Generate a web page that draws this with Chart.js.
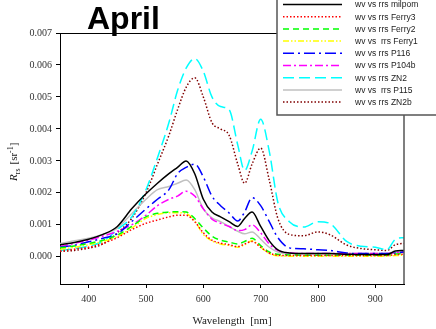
<!DOCTYPE html>
<html>
<head>
<meta charset="utf-8">
<script src="https://cdn.jsdelivr.net/npm/chart.js@4/dist/chart.umd.min.js"></script>
<style>
  html, body { margin: 0; padding: 0; background: #fff; }
  canvas { display: block; }
</style>
</head>
<body>
<canvas id="chart" width="436" height="329"></canvas>
<script>
// wavelengths (nm)
const wavelengths = [350, 375, 400, 425, 450, 475, 500, 520, 540, 555, 570, 585, 600, 615, 630, 645, 660, 672, 685, 700, 715, 730, 750, 775, 800, 820, 850, 875, 900, 920, 935, 950];

// Rrs values per station
const milpom = [0.00038, 0.00045, 0.00055, 0.0007, 0.00095, 0.0015, 0.00197, 0.0023, 0.0026, 0.0028, 0.003, 0.0026, 0.0018, 0.0014, 0.00125, 0.0011, 0.00095, 0.0012, 0.0014, 0.00095, 0.0005, 0.00022, 0.00012, 0.0001, 0.0001, 0.0001, 0.00008, 0.00007, 0.00007, 0.00007, 0.00018, 0.0002];
const ferry3 = [0.00018, 0.00024, 0.0003, 0.00042, 0.0006, 0.00085, 0.00105, 0.00115, 0.00125, 0.0013, 0.0013, 0.0011, 0.00075, 0.00052, 0.00043, 0.00038, 0.00032, 0.0004, 0.00048, 0.0003, 0.00012, 0.00005, 0.00004, 0.00004, 0.00004, 0.00004, 0.00004, 0.00004, 0.00004, 0.00004, 0.00007, 0.00008];
const ferry2 = [0.00028, 0.00034, 0.00042, 0.00052, 0.00068, 0.00095, 0.00125, 0.00136, 0.0014, 0.00141, 0.0014, 0.0012, 0.0009, 0.00065, 0.00052, 0.00046, 0.0004, 0.00048, 0.00058, 0.00035, 0.00015, 0.00008, 0.00006, 0.00005, 0.00005, 0.00005, 0.00005, 0.00005, 0.00005, 0.00005, 0.00009, 0.0001];
const ferry1 = [0.00024, 0.0003, 0.00038, 0.00048, 0.00063, 0.0009, 0.0012, 0.00132, 0.00138, 0.00138, 0.00135, 0.00112, 0.0007, 0.0005, 0.0004, 0.00036, 0.0003, 0.00038, 0.0005, 0.0003, 0.0001, 0.00003, 0.00002, 0.00002, 0.00002, 0.00002, 0.00002, 0.00002, 0.00002, 0.00002, 0.00004, 0.00005];
const p116 = [0.0003, 0.00036, 0.00047, 0.00058, 0.00072, 0.0011, 0.0015, 0.0018, 0.0021, 0.0026, 0.0028, 0.0029, 0.0025, 0.0019, 0.0016, 0.00137, 0.00112, 0.0014, 0.00185, 0.0016, 0.0011, 0.0006, 0.00028, 0.00025, 0.00022, 0.0002, 0.00012, 0.0001, 0.0001, 0.0001, 0.00012, 0.00015];
const p104b = [0.00032, 0.00042, 0.00052, 0.00065, 0.0008, 0.001, 0.0013, 0.0016, 0.0018, 0.0019, 0.00205, 0.0019, 0.0015, 0.00118, 0.00105, 0.00095, 0.00082, 0.00085, 0.001, 0.00075, 0.0004, 0.0002, 0.00012, 0.0001, 0.0001, 0.0001, 0.0001, 0.0001, 0.0001, 0.0001, 0.00014, 0.00015];
const zn2 = [0.0002, 0.00025, 0.00034, 0.00048, 0.00085, 0.00125, 0.0021, 0.0031, 0.0042, 0.0052, 0.0059, 0.0062, 0.0058, 0.005, 0.0047, 0.0046, 0.0035, 0.0027, 0.0033, 0.0043, 0.0033, 0.0017, 0.0011, 0.00093, 0.0011, 0.00105, 0.00048, 0.00033, 0.0003, 0.00022, 0.00055, 0.0006];
const p115 = [0.00042, 0.0005, 0.00058, 0.0007, 0.0009, 0.00135, 0.0018, 0.0021, 0.0022, 0.0023, 0.0024, 0.0021, 0.0015, 0.00122, 0.0011, 0.00095, 0.0008, 0.00072, 0.00078, 0.00055, 0.0003, 0.00015, 0.0001, 0.0001, 0.0001, 0.0001, 0.0001, 0.0001, 0.0001, 0.0001, 0.00013, 0.00015];
const zn2b = [0.00017, 0.0002, 0.00027, 0.0004, 0.00075, 0.0012, 0.002, 0.0029, 0.0038, 0.0046, 0.0053, 0.0056, 0.005, 0.0042, 0.004, 0.0038, 0.0029, 0.0023, 0.0029, 0.0034, 0.0024, 0.0012, 0.0007, 0.00066, 0.00078, 0.0007, 0.00037, 0.00026, 0.00022, 0.0002, 0.00038, 0.00042];

const seriesLabels = ['wv vs rrs milpom', 'wv vs rrs Ferry3', 'wv vs rrs Ferry2', 'wv vs  rrs Ferry1', 'wv vs rrs P116', 'wv vs rrs P104b', 'wv vs rrs ZN2', 'wv vs  rrs P115', 'wv vs rrs ZN2b'];
const yTicks = [0, 0.001, 0.002, 0.003, 0.004, 0.005, 0.006, 0.007];
const xTicks = [400, 500, 600, 700, 800, 900];

function ds(label, values, color, dash) {
  return {
    label,
    data: wavelengths.map((w, i) => ({ x: w, y: values[i] })),
    borderColor: color,
    borderDash: dash,
    borderWidth: 1.5,
    pointRadius: 0,
    fill: false,
    cubicInterpolationMode: 'monotone'
  };
}

const datasets = [
  ds(seriesLabels[0], milpom, '#000000', []),
  ds(seriesLabels[1], ferry3, '#ff0000', [1.5, 2]),
  ds(seriesLabels[2], ferry2, '#00ff00', [6, 4]),
  ds(seriesLabels[3], ferry1, '#ffff00', [6, 2, 1.5, 2, 1.5, 2]),
  ds(seriesLabels[4], p116, '#0000ff', [11, 4, 2, 4]),
  ds(seriesLabels[5], p104b, '#ff00ff', [8, 3, 2, 3]),
  ds(seriesLabels[6], zn2, '#00ffff', [11, 5]),
  ds(seriesLabels[7], p115, '#c0c0c0', []),
  ds(seriesLabels[8], zn2b, '#800000', [1.5, 2])
];

// frame, titles and legend box
const decor = {
  id: 'decor',
  afterDraw(chart) {
    const { ctx, chartArea: a } = chart;
    ctx.save();
    ctx.strokeStyle = '#000';
    ctx.lineWidth = 1;
    ctx.beginPath();
    ctx.moveTo(a.left, a.top + 0.5);
    ctx.lineTo(a.right, a.top + 0.5);
    ctx.stroke();
    ctx.strokeStyle = '#555';
    ctx.lineWidth = 1.5;
    ctx.beginPath();
    ctx.moveTo(a.right, a.top);
    ctx.lineTo(a.right, a.bottom);
    ctx.stroke();

    // title
    ctx.fillStyle = '#000';
    ctx.font = 'bold 32px "Liberation Sans", Arial, sans-serif';
    ctx.textBaseline = 'alphabetic';
    ctx.textAlign = 'left';
    ctx.fillText('April', 87, 29);

    // x title
    ctx.font = '11px "Liberation Serif", serif';
    ctx.fillStyle = '#222';
    ctx.textAlign = 'center';
    ctx.textBaseline = 'middle';
    ctx.fillText('Wavelength  [nm]', 232, 321);

    // y title
    ctx.save();
    ctx.translate(17, 181);
    ctx.rotate(-Math.PI / 2);
    ctx.textAlign = 'left';
    ctx.textBaseline = 'alphabetic';
    let x = 0;
    ctx.font = 'italic 11px "Liberation Serif", serif';
    ctx.fillText('R', x, 0); x += ctx.measureText('R').width;
    ctx.font = '8px "Liberation Serif", serif';
    ctx.fillText('rs', x, 3); x += ctx.measureText('rs').width + 4;
    ctx.font = '11px "Liberation Serif", serif';
    ctx.fillText('[sr', x, 0); x += ctx.measureText('[sr').width;
    ctx.font = '8px "Liberation Serif", serif';
    ctx.fillText('-1', x, -4); x += ctx.measureText('-1').width;
    ctx.font = '11px "Liberation Serif", serif';
    ctx.fillText(']', x, 0);
    ctx.restore();

    // legend
    const lx = 277, lw = 170, lh = 115;
    ctx.fillStyle = '#fff';
    ctx.fillRect(lx, -2, lw, lh + 2);
    ctx.strokeStyle = '#555';
    ctx.lineWidth = 1.5;
    ctx.strokeRect(lx, -2, lw, lh + 2);
    ctx.font = '8.5px "Liberation Sans", Arial, sans-serif';
    ctx.textAlign = 'left';
    ctx.textBaseline = 'middle';
    chart.data.datasets.forEach((d, i) => {
      const y = 4.5 + i * 12.2;
      ctx.strokeStyle = d.borderColor;
      ctx.lineWidth = 1.5;
      ctx.setLineDash(d.borderDash);
      ctx.beginPath();
      ctx.moveTo(283, y);
      ctx.lineTo(342, y);
      ctx.stroke();
      ctx.setLineDash([]);
      ctx.fillStyle = '#222';
      ctx.fillText(d.label, 355, y + 0.5);
    });
    ctx.restore();
  }
};

new Chart(document.getElementById('chart'), {
  type: 'line',
  data: { datasets },
  options: {
    responsive: false,
    animation: false,
    layout: { padding: { left: 0, top: 33, right: 32, bottom: 0 } },
    plugins: { legend: { display: false }, tooltip: { enabled: false } },
    scales: {
      x: {
        type: 'linear',
        min: 350,
        max: 950,
        afterFit(s) { s.height = 45; },
        afterBuildTicks(s) { s.ticks = xTicks.map(v => ({ value: v })); },
        grid: { display: true, drawOnChartArea: false, drawTicks: true, tickLength: 4, color: '#000' },
        border: { display: true, color: '#000', width: 1 },
        ticks: {
          padding: 5,
          maxRotation: 0,
          color: '#333',
          font: { family: '"Liberation Serif", serif', size: 10 },
          callback: v => String(v)
        }
      },
      y: {
        type: 'linear',
        min: -0.00085,
        max: 0.007,
        afterFit(s) { s.width = 60; },
        afterBuildTicks(s) { s.ticks = yTicks.map(v => ({ value: v })); },
        grid: { display: true, drawOnChartArea: false, drawTicks: true, tickLength: 4, color: '#000' },
        border: { display: true, color: '#000', width: 1 },
        ticks: {
          padding: 4,
          color: '#333',
          font: { family: '"Liberation Serif", serif', size: 10 },
          callback: v => Number(v).toFixed(3)
        }
      }
    }
  },
  plugins: [decor]
});
</script>
</body>
</html>
